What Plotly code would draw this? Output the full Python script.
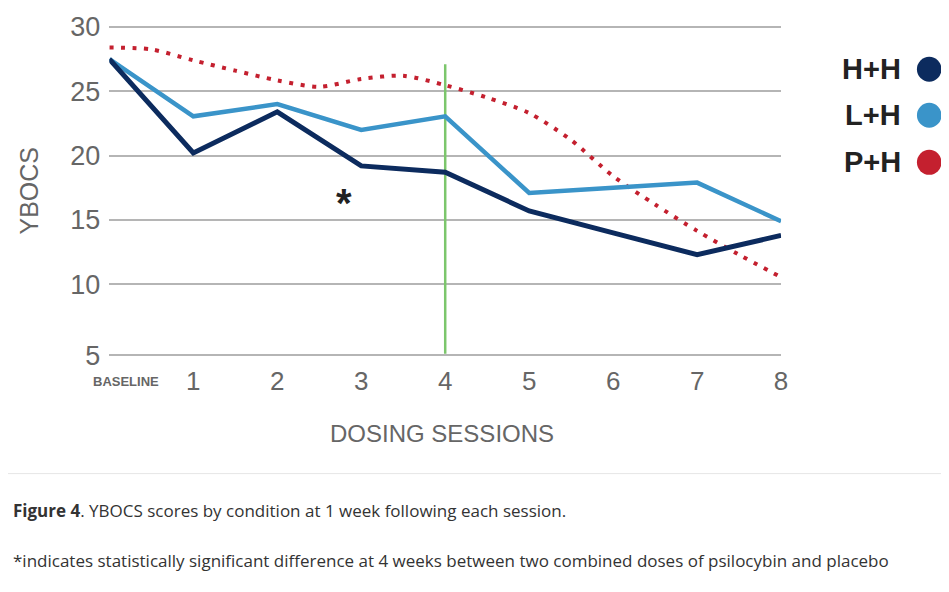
import plotly.graph_objects as go

# the page body has an 8px margin, and the photo comes out slightly scaled,
# so reference pixel positions are mapped to page positions first
PAD = 8
SX, SY = 0.99, 0.977
OX, OY = 1.0, 3.0
W = int(round((949 - OX) / SX - 2 * PAD))
H = int(round((592 - OY) / SY - 2 * PAD))


def px(v):
    return ((v - OX) / SX - PAD) / W


def py(v):
    return 1 - ((v - OY) / SY - PAD) / H


# data
sessions = [0, 1, 2, 3, 4, 5, 6, 7, 8]
hh = [27.5, 20.2, 23.4, 19.2, 18.7, 15.7, 14.0, 12.3, 13.8]
lh = [27.5, 23.05, 24.0, 22.0, 23.05, 17.1, 17.5, 17.9, 14.9]

# placebo curve is smooth, read at half-session steps
ph_x = [0, 0.5, 1, 1.5, 2, 2.5, 3, 3.5, 4, 4.5, 5, 5.5, 6, 6.5, 7, 7.5, 8]
ph = [28.4, 28.25, 27.4, 26.6, 25.85, 25.35, 25.95, 26.2, 25.47, 24.5, 23.3,
      21.2, 18.4, 16.2, 14.15, 12.3, 10.55]

x_ticks = [1, 2, 3, 4, 5, 6, 7, 8]
x_labels = ["1", "2", "3", "4", "5", "6", "7", "8"]
y_ticks = [4.47, 10, 15, 20, 25, 30]
y_labels = ["5", "10", "15", "20", "25", "30"]

names = ["H+H", "L+H", "P+H"]
colors = ["#0c2b5e", "#3a94c9", "#c4202f"]

marker_x = [4, 4]
marker_y = [4.6, 27.1]

fig = go.Figure()

fig.add_trace(go.Scatter(x=marker_x, y=marker_y, mode="lines",
                         line=dict(color="#7cc66c", width=2.5),
                         showlegend=False, hoverinfo="skip"))
fig.add_trace(go.Scatter(x=ph_x, y=ph, mode="lines", name=names[2],
                         line=dict(color=colors[2], width=4, dash="4px,7.5px",
                                   shape="spline", smoothing=0.8)))
fig.add_trace(go.Scatter(x=sessions, y=lh, mode="lines", name=names[1],
                         line=dict(color=colors[1], width=4.5)))
fig.add_trace(go.Scatter(x=sessions, y=hh, mode="lines", name=names[0],
                         line=dict(color=colors[0], width=5)))

arial = "Arial, Liberation Sans"

fig.update_xaxes(domain=[px(110), px(780)], range=[0, 8],
                 tickvals=x_ticks, ticktext=x_labels,
                 tickfont=dict(family=arial, size=26, color="#666666"),
                 showgrid=False, zeroline=False, showline=False,
                 ticks="", ticklabelstandoff=3)
fig.update_yaxes(domain=[py(360), py(15)], range=[4.08, 30.91],
                 tickvals=y_ticks, ticktext=y_labels,
                 tickfont=dict(family=arial, size=27, color="#666666"),
                 showgrid=True, gridcolor="#b5b5b5", gridwidth=1.6,
                 zeroline=False, showline=False, ticks="",
                 ticklabelstandoff=8)

ann = []
ann.append(dict(x=px(30), y=py(190), xref="paper", yref="paper",
                xanchor="center", yanchor="middle",
                text="YBOCS", textangle=-90, showarrow=False,
                font=dict(family=arial, size=25, color="#666666")))
ann.append(dict(x=px(442), y=py(433), xref="paper", yref="paper",
                xanchor="center", yanchor="middle",
                text="DOSING SESSIONS", showarrow=False,
                font=dict(family=arial, size=24, color="#666666")))
ann.append(dict(x=0, y=py(381), xref="x", yref="paper", xshift=17,
                xanchor="center", yanchor="middle",
                text="<b>BASELINE</b>", showarrow=False,
                font=dict(family=arial, size=13, color="#666666")))
ann.append(dict(x=2.8, y=16.7, xref="x", yref="y", text="<b>*</b>",
                xanchor="center", yanchor="middle",
                showarrow=False, yshift=-5,
                font=dict(family=arial, size=40, color="#222222")))

legend_y = [69, 115, 162]
for name, col, ly in zip(names, colors, legend_y):
    ann.append(dict(x=px(902), y=py(ly), xref="paper", yref="paper",
                    xanchor="right", yanchor="middle", text="<b>%s</b>" % name,
                    showarrow=False,
                    font=dict(family=arial, size=29, color="#222222")))
    fig.add_shape(type="circle", xref="paper", yref="paper",
                  x0=px(915.5), x1=px(940),
                  y0=py(ly + 12.5), y1=py(ly - 12.5),
                  fillcolor=col, line=dict(width=0))

cap_font = dict(family="Open Sans", size=17, color="#333333")
ann.append(dict(x=px(12), y=py(510), xref="paper", yref="paper",
                xanchor="left", yanchor="middle", showarrow=False,
                text="<b>Figure 4</b>. YBOCS scores by condition at 1 week following each session.",
                font=cap_font))
ann.append(dict(x=px(12), y=py(560), xref="paper", yref="paper",
                xanchor="left", yanchor="middle", showarrow=False,
                text="*indicates statistically significant difference at 4 weeks between two combined doses of psilocybin and placebo",
                font=cap_font))

fig.add_shape(type="line", xref="paper", yref="paper", x0=0, x1=1,
              y0=py(473), y1=py(473),
              line=dict(color="#e6e6e6", width=1))

fig.update_layout(width=W, height=H, margin=dict(l=0, r=0, t=0, b=0),
                  paper_bgcolor="white", plot_bgcolor="white",
                  showlegend=False, annotations=ann)

fig.write_html("out.html")
